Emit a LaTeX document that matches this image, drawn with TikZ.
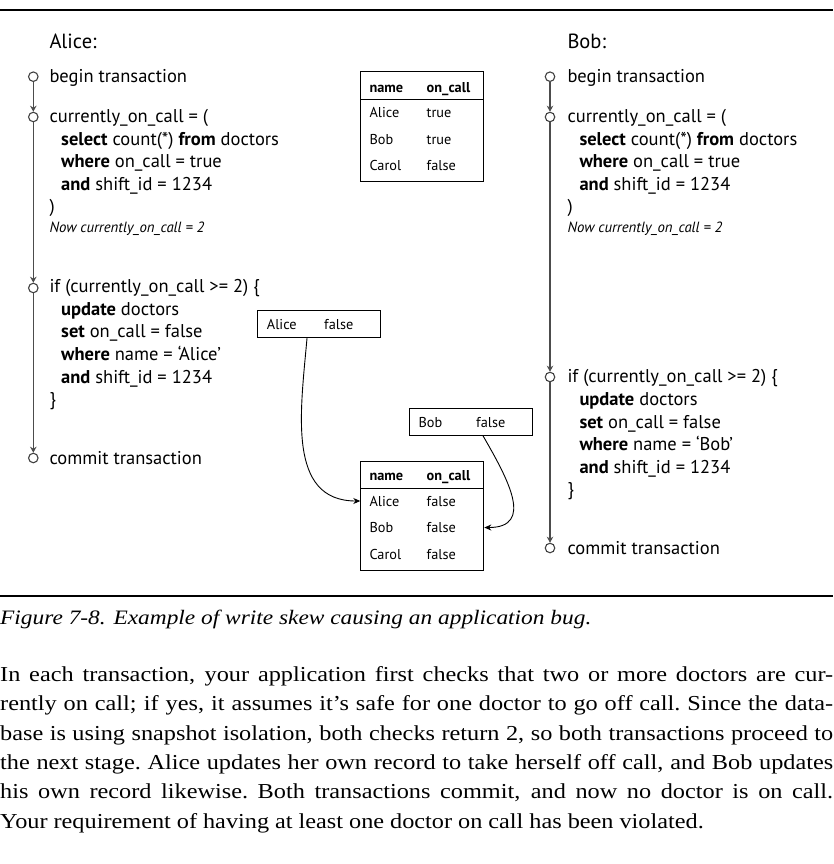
\documentclass[tikz,border=0pt]{standalone}
\usepackage{fontspec}
\setmainfont{Liberation Serif}
\setsansfont{PT Sans}
\newfontfamily\bodyfont[FakeStretch=1.14]{Liberation Serif}
\usetikzlibrary{arrows.meta,positioning}

\tikzset{
  event/.style={circle,draw=black!75,line width=1.1pt,inner sep=0pt,minimum size=9.5pt},
  flow/.style={draw=black!70,line width=1.6pt,-{Stealth[length=6pt,width=6.5pt]}},
  code/.style={anchor=base west,inner sep=0pt,font=\sffamily\fontsize{18.5}{21}\selectfont},
  who/.style={anchor=base west,inner sep=0pt,font=\sffamily\fontsize{20.5}{24}\selectfont},
  note/.style={anchor=base west,inner sep=0pt,font=\sffamily\itshape\fontsize{14.8}{17}\selectfont},
  cell/.style={anchor=base west,inner sep=0pt,font=\sffamily\fontsize{14.3}{16}\selectfont},
  tablebox/.style={draw,line width=1pt,minimum width=123pt,minimum height=109pt,inner sep=0pt},
  rowbox/.style={draw,line width=1pt,minimum width=123pt,minimum height=27pt,inner sep=0pt},
  write/.style={line width=0.9pt,-{Stealth[length=7pt,width=6pt]}}
}

\begin{document}
\begin{tikzpicture}[x=1pt,y=-1pt]
		\useasboundingbox (0,0) rectangle (833,864);
		\draw[line width=1.3pt] (0,10) -- (833,10);
		
		% Alice
		\node[who] (alice) at (49.3,48.7) {Alice:};
		\node[event] (a1) at (33.3,76.7) {};
		\node[event] (a2) at (33.3,117) {};
		\node[event] (a3) at (33.3,288) {};
		\node[event] (a4) at (33.3,458) {};
		\draw[flow] (a1) -- (a2);
		\draw[flow] (a2) -- (a3);
		\draw[flow] (a3) -- (a4);
		\node[code] (abegin) at (49.3,82.4) {begin transaction};
		\node[code] (acount) at (49.3,122.7) {currently\_on\_call = (};
		\node[code] at (61,145.2) {\textbf{select} count(*) \textbf{from} doctors};
		\node[code] at (61,167.7) {\textbf{where} on\_call = true};
		\node[code] at (61,190.2) {\textbf{and} shift\_id = 1234};
		\node[code] at (49.3,212.7) {)};
		\node[note] (anow) at (49.3,232) {Now currently\_on\_call = 2};
		\node[code] (aif) at (49.3,292.4) {if (currently\_on\_call >= 2) \{};
		\node[code] at (61,315) {\textbf{update} doctors};
		\node[code] at (61,337.7) {\textbf{set} on\_call = false};
		\node[code] at (61,360.4) {\textbf{where} name = ‘Alice’};
		\node[code] at (61,383) {\textbf{and} shift\_id = 1234};
		\node[code] at (49.3,405.7) {\}};
		\node[code] (acommit) at (49.3,464) {commit transaction};
		
		% Bob
		\node[who] (bob) at (567.3,48.7) {Bob:};
		\node[event] (b1) at (550,76.7) {};
		\node[event] (b2) at (550,117) {};
		\node[event] (b3) at (550,377) {};
		\node[event] (b4) at (550,548) {};
		\draw[flow] (b1) -- (b2);
		\draw[flow] (b2) -- (b3);
		\draw[flow] (b3) -- (b4);
		\node[code] (bbegin) at (567.3,82.4) {begin transaction};
		\node[code] (bcount) at (567.3,122.7) {currently\_on\_call = (};
		\node[code] at (579.3,145.2) {\textbf{select} count(*) \textbf{from} doctors};
		\node[code] at (579.3,167.7) {\textbf{where} on\_call = true};
		\node[code] at (579.3,190.2) {\textbf{and} shift\_id = 1234};
		\node[code] at (567.3,212.7) {)};
		\node[note] (bnow) at (567.3,232) {Now currently\_on\_call = 2};
		\node[code] (bif) at (567.3,382.7) {if (currently\_on\_call >= 2) \{};
		\node[code] at (579.3,405.7) {\textbf{update} doctors};
		\node[code] at (579.3,428) {\textbf{set} on\_call = false};
		\node[code] at (579.3,450.7) {\textbf{where} name = ‘Bob’};
		\node[code] at (579.3,473.4) {\textbf{and} shift\_id = 1234};
		\node[code] at (567.3,495.7) {\}};
		\node[code] (bcommit) at (567.3,554) {commit transaction};
		
		% table before
		\node[tablebox] (before) at (422.3,126.5) {};
		\draw[line width=0.6pt] (before.west |- 0,99.3) -- (before.east |- 0,99.3);
		\node[cell] at (369.3,93) {\textbf{name}};
		\node[cell] at (426.5,93) {\textbf{on\_call}};
		\foreach \doc/\val [count=\i] in {Alice/true,Bob/true,Carol/false}
		{
			\node[cell] (bn\i) at (369.3,91+26.5*\i) {\doc};
			\node[cell] (bv\i) at (426.5,91+26.5*\i) {\val};
		}
		
		% table after
		\node[tablebox] (after) at (422.3,515.7) {};
		\draw[line width=0.6pt] (after.west |- 0,488.3) -- (after.east |- 0,488.3);
		\node[cell] at (369.3,480) {\textbf{name}};
		\node[cell] at (426.5,480) {\textbf{on\_call}};
		\foreach \doc/\val [count=\i] in {Alice/false,Bob/false,Carol/false}
		{
			\node[cell] (an\i) at (369.3,479.5+26.5*\i) {\doc};
			\node[cell] (av\i) at (426.5,479.5+26.5*\i) {\val};
		}
		
		% writes
		\node[rowbox] (alicerow) at (319,324.2) {};
		\node[cell] at (266.7,329) {Alice};
		\node[cell] at (324,329) {false};
		\node[rowbox] (bobrow) at (471,421.8) {};
		\node[cell] at (418.3,427) {Bob};
		\node[cell] at (476,427) {false};
		\draw[write] ([xshift=-12pt]alicerow.south) to[out=-95,in=180,looseness=1.1] (after.west |- an1);
		\draw[write] ([xshift=12pt]bobrow.south) to[out=-60,in=0,looseness=1.4] (after.east |- an2);
		
		\draw[line width=1.3pt] (0,596) -- (833,596);
		\node[anchor=base west,inner sep=0pt,font=\bodyfont\itshape\fontsize{20.5}{25}\selectfont] (caption) at (0,624) {Figure 7-8. Example of write skew causing an application bug.};
		\node[anchor=north west,inner sep=0pt,text width=833pt,font=\bodyfont\fontsize{21.3}{29.4}\selectfont] (text) at (0,666) {%
			\spaceskip=0.28em plus 0.6em minus 0.14em\relax
			\xspaceskip=\spaceskip
			\hbox to 833pt{In each transaction, your application first checks that two or more doctors are cur-}
			\hbox to 833pt{rently on call; if yes, it assumes it’s safe for one doctor to go off call. Since the data-}
			\hbox to 833pt{base is using snapshot isolation, both checks return 2, so both transactions proceed to}
			\hbox to 833pt{the next stage. Alice updates her own record to take herself off call, and Bob updates}
			\hbox to 833pt{his own record likewise. Both transactions commit, and now no doctor is on call.}
			\hbox{Your requirement of having at least one doctor on call has been violated.}};
\end{tikzpicture}
\end{document}
